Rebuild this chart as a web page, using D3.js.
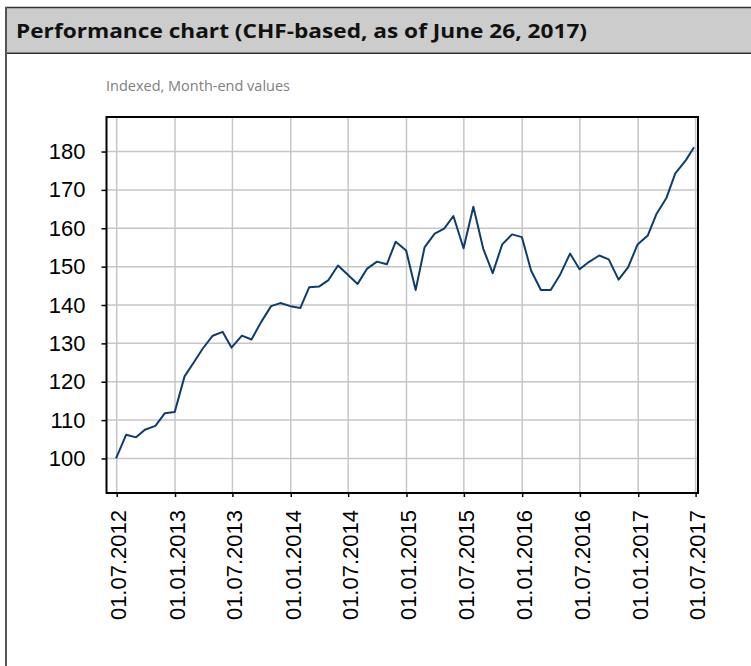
<!DOCTYPE html>
<html>
<head>
<meta charset="utf-8">
<script src="https://cdn.jsdelivr.net/npm/d3@7"></script>
<style>
  html, body { margin: 0; padding: 0; background: #ffffff; }
  svg { display: block; }
</style>
</head>
<body>
<svg id="chart" width="751" height="666"></svg>
<script>
// Indexed month-end values (start = 100), June 2012 – June 2017
const months = [
  "2012-06","2012-07","2012-08","2012-09","2012-10","2012-11","2012-12",
  "2013-01","2013-02","2013-03","2013-04","2013-05","2013-06",
  "2013-07","2013-08","2013-09","2013-10","2013-11","2013-12",
  "2014-01","2014-02","2014-03","2014-04","2014-05","2014-06",
  "2014-07","2014-08","2014-09","2014-10","2014-11","2014-12",
  "2015-01","2015-02","2015-03","2015-04","2015-05","2015-06",
  "2015-07","2015-08","2015-09","2015-10","2015-11","2015-12",
  "2016-01","2016-02","2016-03","2016-04","2016-05","2016-06",
  "2016-07","2016-08","2016-09","2016-10","2016-11","2016-12",
  "2017-01","2017-02","2017-03","2017-04","2017-05","2017-06"
];
const values = [
  100.0, 106.2, 105.5, 107.5, 108.5, 111.8, 112.1,
  121.4, 124.9, 128.6, 132.0, 133.0, 128.9,
  132.0, 131.0, 135.6, 139.7, 140.5, 139.7,
  139.2, 144.6, 144.8, 146.5, 150.3, 147.9,
  145.5, 149.4, 151.3, 150.6, 156.5, 154.2,
  143.9, 155.0, 158.6, 159.9, 163.2, 154.8,
  165.6, 154.7, 148.3, 155.8, 158.4, 157.7,
  149.0, 143.9, 143.9, 147.8, 153.4, 149.3,
  151.2, 152.9, 151.9, 146.6, 149.8, 155.8,
  158.1, 163.8, 167.9, 174.3, 177.7, 181.1
];
const asOf = "2017-06-26";
const yTicks = [100, 110, 120, 130, 140, 150, 160, 170, 180];
const xTickLabels = [
  "01.07.2012","01.01.2013","01.07.2013","01.01.2014","01.07.2014","01.01.2015",
  "01.07.2015","01.01.2016","01.07.2016","01.01.2017","01.07.2017"
];
const titleText = "Performance chart (CHF-based, as of June 26, 2017)";
const subtitleText = "Indexed, Month-end values";

const parseMonth = d3.timeParse("%Y-%m");
const parseDay = d3.timeParse("%Y-%m-%d");
const parseLabel = d3.timeParse("%d.%m.%Y");

// last weekday of each month; the final point is the as-of date
function lastWeekday(m) {
  let d = d3.timeDay.offset(d3.timeMonth.offset(parseMonth(m), 1), -1);
  while (d.getDay() === 0 || d.getDay() === 6) d = d3.timeDay.offset(d, -1);
  return d;
}
const series = months.map((m, i) => ({
  date: i === months.length - 1 ? parseDay(asOf) : lastWeekday(m),
  value: values[i]
}));
const tickDates = xTickLabels.map(parseLabel);

const svg = d3.select("#chart");

// panel header
svg.append("rect")
  .attr("x", 6).attr("y", 7.5).attr("width", 760).attr("height", 45.5)
  .attr("fill", "#cccccc");
svg.append("line")
  .attr("x1", 5).attr("x2", 751).attr("y1", 7.5).attr("y2", 7.5)
  .attr("stroke", "#333").attr("stroke-width", 1.5);
svg.append("line")
  .attr("x1", 5).attr("x2", 751).attr("y1", 53.2).attr("y2", 53.2)
  .attr("stroke", "#333").attr("stroke-width", 1.5);
svg.append("line")
  .attr("x1", 6).attr("x2", 6).attr("y1", 7).attr("y2", 666)
  .attr("stroke", "#555").attr("stroke-width", 2);

svg.append("text")
  .attr("x", 16).attr("y", 37.5)
  .attr("font-family", "'Open Sans', 'Noto Sans', sans-serif")
  .attr("font-weight", 700)
  .attr("font-size", 20)
  .attr("textLength", 571)
  .attr("lengthAdjust", "spacingAndGlyphs")
  .attr("fill", "#111")
  .text(titleText);

svg.append("text")
  .attr("x", 106).attr("y", 90.7)
  .attr("font-family", "'Open Sans', 'Noto Sans', sans-serif")
  .attr("font-size", 15)
  .attr("textLength", 184)
  .attr("lengthAdjust", "spacingAndGlyphs")
  .attr("fill", "#808080")
  .text(subtitleText);

// plot frame
const frame = { left: 106.5, right: 698, top: 117, bottom: 493 };

const x = d3.scaleTime()
  .domain([tickDates[0], tickDates[tickDates.length - 1]])
  .range([116.7, 695.6]);
const y = d3.scaleLinear()
  .domain([91, 189])
  .range([frame.bottom, frame.top]);

const g = svg.append("g");

// grid
g.append("g").selectAll("line").data(tickDates).join("line")
  .attr("x1", d => x(d)).attr("x2", d => x(d))
  .attr("y1", frame.top).attr("y2", frame.bottom)
  .attr("stroke", "#c6c6c6").attr("stroke-width", 1.5);
g.append("g").selectAll("line").data(yTicks).join("line")
  .attr("x1", frame.left).attr("x2", frame.right)
  .attr("y1", d => y(d)).attr("y2", d => y(d))
  .attr("stroke", "#c6c6c6").attr("stroke-width", 1.5);

// axes
const yAxis = d3.axisLeft(y).tickValues(yTicks).tickSize(5).tickPadding(16);
const yG = g.append("g").attr("transform", `translate(${frame.left},0)`).call(yAxis);
yG.select(".domain").remove();
yG.selectAll(".tick line").attr("stroke", "#000").attr("stroke-width", 1.5);
yG.selectAll(".tick text")
  .attr("font-family", "'Liberation Sans', Arial, sans-serif")
  .attr("font-size", 22)
  .attr("fill", "#000");

const xAxis = d3.axisBottom(x).tickValues(tickDates).tickSize(4)
  .tickFormat(d3.timeFormat("%d.%m.%Y"));
const xG = g.append("g").attr("transform", `translate(0,${frame.bottom})`).call(xAxis);
xG.select(".domain").remove();
xG.selectAll(".tick line").attr("stroke", "#000").attr("stroke-width", 1.5);
xG.selectAll(".tick text")
  .attr("font-family", "'Liberation Sans', Arial, sans-serif")
  .attr("font-size", 22)
  .attr("fill", "#000")
  .attr("text-anchor", "end")
  .attr("transform", "rotate(-90)")
  .attr("x", -17)
  .attr("y", 0)
  .attr("dy", "0.42em");

// series line
const line = d3.line().x(d => x(d.date)).y(d => y(d.value));
g.append("path")
  .datum(series)
  .attr("fill", "none")
  .attr("stroke", "#0d3d6e")
  .attr("stroke-width", 2)
  .attr("stroke-linejoin", "round")
  .attr("d", line);

// frame border
g.append("rect")
  .attr("x", frame.left).attr("y", frame.top)
  .attr("width", frame.right - frame.left).attr("height", frame.bottom - frame.top)
  .attr("fill", "none").attr("stroke", "#000").attr("stroke-width", 2);
</script>
</body>
</html>
